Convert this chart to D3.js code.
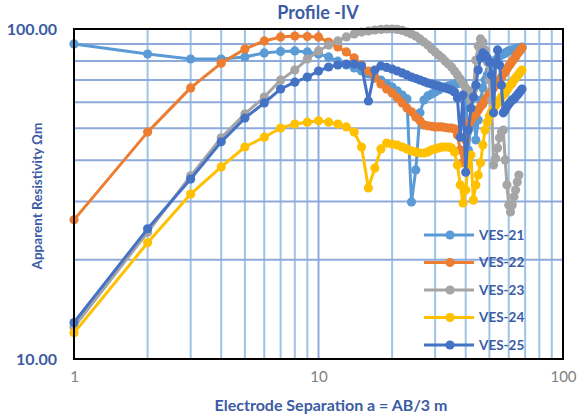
<!DOCTYPE html>
<html><head><meta charset="utf-8">
<script src="https://cdn.jsdelivr.net/npm/d3@7"></script>
<style>body{margin:0;background:#fff}svg{display:block}</style>
</head><body>
<svg id="c" width="581" height="418"></svg>
<script>
const spacing = [1,2,3,4,5,6,7,8,9,10,11,12,13,14,15,16,17,18,19,20,21,22,23,24,25,26,27,28,29,30,31,32,33,34,35,36,37,38,39,40,41,42,43,44,45,46,47,48,49,50,51,52,53,54,55,56,57,58,59,60,61,62,63,64,65,66,67,68];
const ves21 = [90.1,84.0,81.1,81.1,82.3,84.6,85.5,85.8,85.2,84.0,
  82.3,79.9,77.8,76.2,74.6,73.1,71.5,70.0,68.3,66.7,
  64.9,63.1,61.4,29.9,37.4,55.7,60.9,62.7,63.5,64.4,
  65.3,66.3,66.7,67.2,67.6,68.1,68.3,68.6,68.6,63.1,
  43.0,51.2,56.8,46.1,53.0,60.9,66.3,70.0,72.6,75.1,
  77.3,78.8,80.5,81.7,82.8,83.4,84.0,84.6,85.2,85.8,
  86.1,86.4,86.7,87.0,87.3,87.6,87.9,88.2];
const ves22 = [26.4,48.7,66.3,78.8,87.0,92.0,94.6,95.2,94.9,94.6,
  91.3,88.2,85.2,81.7,77.8,74.6,71.0,68.1,65.8,64.0,
  61.8,59.7,57.6,56.1,54.1,52.7,51.2,50.9,50.7,50.5,
  50.5,50.5,50.3,50.1,50.1,49.8,47.7,43.0,39.3,46.1,
  51.2,52.7,54.1,55.3,56.8,58.1,59.3,60.9,62.2,63.5,
  64.9,66.3,67.6,69.1,70.0,71.5,73.1,74.1,75.6,77.3,
  78.3,79.9,81.1,82.3,84.0,85.2,86.4,87.6];
const ves23 = [12.5,24.2,35.9,46.8,55.3,62.2,70.0,75.1,81.1,85.8,
  89.4,92.0,94.6,96.6,97.9,98.6,99.3,99.7,100,100,
  99.7,99.0,97.9,96.6,95.2,93.3,91.3,89.4,87.0,85.2,
  83.4,81.7,79.9,78.3,76.7,74.6,72.6,70.5,68.1,66.3,
  63.1,60.9,65.3,80.5,88.8,93.3,91.3,86.4,79.4,70.0,
  60.9,38.7,40.6,43.6,46.8,48.7,49.4,40.1,33.7,29.3,
  27.9,29.3,31.0,32.5,34.4,36.1];
const ves24 = [12.0,22.5,31.6,38.2,43.9,47.0,50.1,51.5,52.2,52.7,
  52.2,51.5,50.5,48.7,43.9,33.0,37.9,43.3,45.1,44.8,
  44.5,43.9,43.3,42.7,42.4,42.1,42.1,42.4,43.0,43.3,
  43.6,43.9,43.9,43.9,43.6,42.4,38.7,33.7,29.7,32.5,
  38.7,41.5,30.3,33.7,36.1,39.3,44.5,49.4,52.2,54.5,
  56.1,57.2,58.5,59.7,60.9,62.2,63.1,64.4,65.3,66.7,
  67.6,68.6,70.0,71.0,72.0,73.1,74.1,75.1];
const ves25 = [12.9,24.8,35.1,45.5,53.7,59.7,65.8,69.0,71.5,74.6,
  76.7,77.8,78.3,78.3,77.3,60.5,75.1,77.3,76.5,75.6,
  74.6,73.6,72.6,71.5,70.8,70.0,69.3,68.6,68.1,67.6,
  67.2,66.7,66.3,65.8,65.3,64.4,61.8,47.0,63.1,36.8,
  49.4,57.6,62.2,67.6,75.1,81.7,84.6,83.4,81.7,79.4,
  72.6,55.7,78.8,86.4,77.8,67.6,55.7,56.8,58.1,59.3,
  60.1,60.9,61.4,62.2,63.1,64.0,64.9,65.8];
const seriesNames = ["VES-21","VES-22","VES-23","VES-24","VES-25"];
const seriesValues = [ves21, ves22, ves23, ves24, ves25];
const seriesColors = ["#5b9bd5","#ed7d31","#a5a5a5","#ffc000","#4472c4"];
const xTicks = [1,10,100];
const yTicks = [10,100];
const xGrid = [2,3,4,5,6,7,8,9,10,20,30,40,50,60,70,80,90];
const yGrid = [20,30,40,50,60,70,80,90];

const svg = d3.select("#c");
const L=74, R=563, T=29, B=359;
const x = d3.scaleLog().domain([1,100]).range([L,R]);
const y = d3.scaleLog().domain([10,100]).range([B,T]);
const txt = "#3b5ca3";

// grid
svg.append("g").selectAll("line").data(xGrid).join("line")
  .attr("x1",d=>x(d)).attr("x2",d=>x(d)).attr("y1",T).attr("y2",B)
  .attr("stroke",d=>d===10?"#8eaadb":"#9dc3e6").attr("stroke-width",2);
svg.append("g").selectAll("line").data(yGrid).join("line")
  .attr("x1",L).attr("x2",R).attr("y1",d=>y(d)).attr("y2",d=>y(d))
  .attr("stroke","#8eaadb").attr("stroke-width",2);

// series
const line = d3.line().x(d=>x(d[0])).y(d=>y(d[1]));
seriesValues.forEach((vals,i)=>{
  const pts = vals.map((v,j)=>[spacing[j],v]);
  const g = svg.append("g");
  g.append("path").attr("d",line(pts)).attr("fill","none")
    .attr("stroke",seriesColors[i]).attr("stroke-width",3).attr("stroke-linejoin","round");
  g.selectAll("circle").data(pts).join("circle")
    .attr("cx",d=>x(d[0])).attr("cy",d=>y(d[1])).attr("r",4.6)
    .attr("fill",seriesColors[i]);
});

// frame
svg.append("rect").attr("x",L).attr("y",T).attr("width",R-L).attr("height",B-T)
  .attr("fill","none").attr("stroke","#000").attr("stroke-width",2);

// axes
const xa = svg.append("g").attr("transform",`translate(0,${B})`)
  .call(d3.axisBottom(x).tickValues(xTicks).tickSize(0).tickFormat(d3.format("d")));
xa.select(".domain").remove();
xa.selectAll("text").attr("dy",0).attr("y",23).attr("fill","#7f7f7f")
  .style("font-family","Lato, 'Open Sans', sans-serif").style("font-size","15px");
const ya = svg.append("g").attr("transform",`translate(${L},0)`)
  .call(d3.axisLeft(y).tickValues(yTicks).tickSize(0).tickFormat(d3.format(".2f")));
ya.select(".domain").remove();
ya.selectAll("text").attr("x",-17).attr("dy","0.35em").attr("fill",txt)
  .style("font-family","Lato, sans-serif").style("font-weight","bold").style("font-size","16px");

// titles
svg.append("text").attr("x",318).attr("y",19).attr("text-anchor","middle")
  .attr("fill",txt).style("font-family","Lato, sans-serif").style("font-weight","bold").style("font-size","18px")
  .text("Profile -IV");
svg.append("text").attr("x",331).attr("y",411).attr("text-anchor","middle")
  .attr("fill",txt).style("font-family","Lato, sans-serif").style("font-weight","bold").style("font-size","16px")
  .text("Electrode Separation a = AB/3 m");
svg.append("text").attr("transform","translate(42,196) rotate(-90)").attr("text-anchor","middle")
  .attr("fill",txt).style("font-family","Lato, sans-serif").style("font-weight","bold").style("font-size","13.5px")
  .text("Apparent Resistivity Ωm");

// legend
const lg = svg.append("g");
seriesNames.forEach((n,i)=>{
  const yy = 235 + i*27.5;
  lg.append("line").attr("x1",424).attr("x2",474).attr("y1",yy).attr("y2",yy)
    .attr("stroke",seriesColors[i]).attr("stroke-width",3);
  lg.append("circle").attr("cx",450).attr("cy",yy).attr("r",4.6).attr("fill",seriesColors[i]);
  lg.append("text").attr("x",479).attr("y",yy).attr("dy","0.35em").attr("fill",txt)
    .style("font-family","Lato, sans-serif").style("font-weight","bold").style("font-size","13.5px").text(n);
});
</script>
</body></html>
